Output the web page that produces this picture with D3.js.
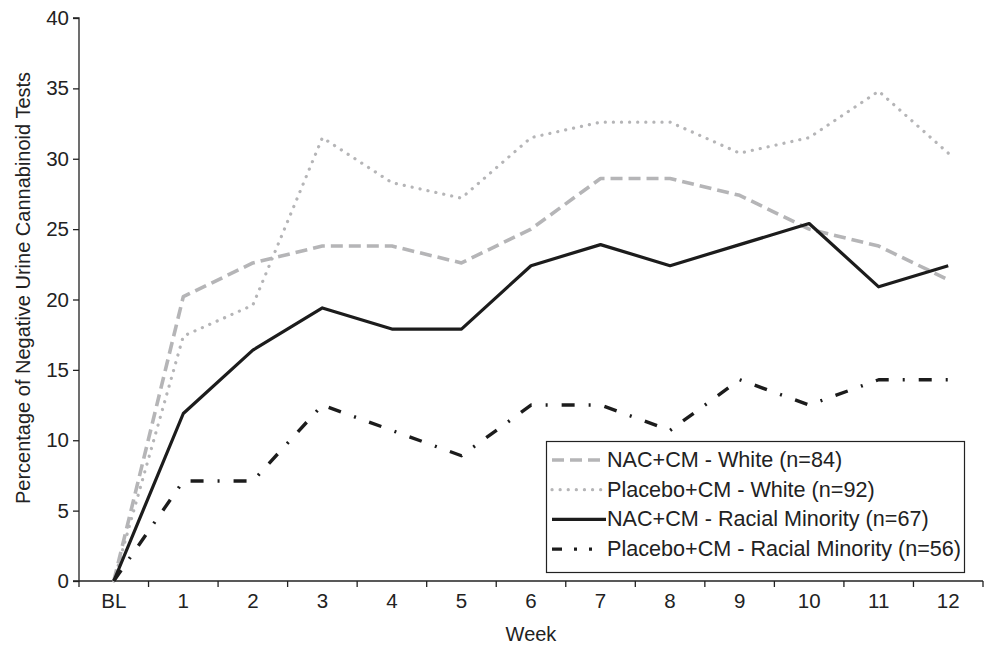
<!DOCTYPE html>
<html><head><meta charset="utf-8">
<script src="https://cdn.jsdelivr.net/npm/d3@7/dist/d3.min.js"></script>
<style>body{margin:0;background:#fff}svg{display:block}text{font-family:"Liberation Sans",Arial,sans-serif;fill:#222}</style>
</head><body><svg id="c" width="986" height="648"></svg>
<script>
const categories = ["BL","1","2","3","4","5","6","7","8","9","10","11","12"];
const nacWhite = [0,20.2,22.6,23.8,23.8,22.6,25.0,28.6,28.6,27.4,25.0,23.8,21.4];
const placeboWhite = [0,17.4,19.6,31.5,28.3,27.2,31.5,32.6,32.6,30.4,31.5,34.8,30.4];
const nacMinority = [0,11.9,16.4,19.4,17.9,17.9,22.4,23.9,22.4,23.9,25.4,20.9,22.4];
const placeboMinority = [0,7.1,7.1,12.5,10.7,8.9,12.5,12.5,10.7,14.3,12.5,14.3,14.3];
const yTicks = [0,5,10,15,20,25,30,35,40];
const seriesNames = ["NAC+CM - White (n=84)","Placebo+CM - White (n=92)","NAC+CM - Racial Minority (n=67)","Placebo+CM - Racial Minority (n=56)"];

const styles = [
  {stroke:"#b5b5b7", width:3.6, dash:"12 6", legDash:"12 6", cap:"butt"},
  {stroke:"#b5b5b7", width:3.2, dash:"0.1 8", legDash:"0.1 8", cap:"round"},
  {stroke:"#1c1c1c", width:3.2, dash:null, legDash:null, cap:"butt"},
  {stroke:"#1c1c1c", width:3.4, dash:"13 14 2 14", legDash:"10 12 3 12 3 20", cap:"butt"}
];
const series = [nacWhite, placeboWhite, nacMinority, placeboMinority];

const svg = d3.select("#c");
const x0 = 79, x1 = 983, yTop = 18, yBot = 581;
const x = d3.scaleBand().domain(categories).range([x0,x1]);
const y = d3.scaleLinear().domain([0,40]).range([yBot,yTop]);

// y axis
const ya = svg.append("g").attr("transform",`translate(${x0},0)`)
  .call(d3.axisLeft(y).tickValues(yTicks).tickSize(6).tickPadding(4));
ya.select(".domain").attr("stroke","#222").attr("stroke-width",1.3).attr("d",`M-6,${yTop}H0V${yBot}H-6`);
ya.selectAll(".tick line").attr("stroke","#222").attr("stroke-width",1.3);
ya.selectAll(".tick text").style("font-size","20.5px").attr("fill","#222");

// x axis
const xa = svg.append("g").attr("transform",`translate(0,${yBot})`)
  .call(d3.axisBottom(x).tickSize(0).tickPadding(12));
xa.select(".domain").attr("stroke","#222").attr("stroke-width",1.3).attr("d",`M${x0},0H${x1}`);
xa.selectAll(".tick text").style("font-size","20.5px").attr("fill","#222");
const bounds = categories.map(c=>x(c)).concat([x1]);
svg.append("g").selectAll("line").data(bounds).join("line")
  .attr("x1",d=>d).attr("x2",d=>d).attr("y1",yBot).attr("y2",yBot+6)
  .attr("stroke","#222").attr("stroke-width",1.3);

// titles
svg.append("text").attr("x",531).attr("y",641).attr("text-anchor","middle").style("font-size","20px").text("Week");
svg.append("text").attr("transform",`translate(29.5,${288}) rotate(-90)`).attr("text-anchor","middle").style("font-size","20px").text("Percentage of Negative Urine Cannabinoid Tests");

// lines
const line = d3.line().x((d,i)=>x(categories[i])+x.bandwidth()/2).y(d=>y(d));
series.forEach((s,i)=>{
  const st = styles[i];
  svg.append("path").datum(s).attr("d",line).attr("fill","none")
    .attr("stroke",st.stroke).attr("stroke-width",st.width)
    .attr("stroke-dasharray",st.dash).attr("stroke-linecap",st.cap).attr("stroke-linejoin","round");
});

// legend
const lg = svg.append("g");
lg.append("rect").attr("x",546.5).attr("y",441.5).attr("width",418).attr("height",131)
  .attr("fill","#fff").attr("stroke","#222").attr("stroke-width",1.2);
seriesNames.forEach((n,i)=>{
  const yy = 460 + i*29.7;
  const st = styles[i];
  lg.append("line").attr("x1",552).attr("x2",606).attr("y1",yy).attr("y2",yy)
    .attr("stroke",st.stroke).attr("stroke-width",st.width)
    .attr("stroke-dasharray",st.legDash).attr("stroke-linecap",st.cap);
  lg.append("text").attr("x",607).attr("y",yy+7).style("font-size","21.6px").text(n);
});
</script></body></html>
